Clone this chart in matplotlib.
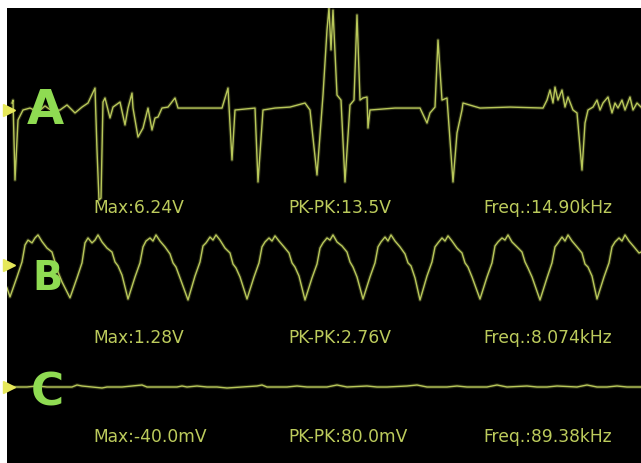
import matplotlib
matplotlib.use("Agg")
import matplotlib.pyplot as plt

# channel A: time (us) and volts
a_t = [10, 12, 16, 22, 32, 46, 62, 76, 90, 106, 120, 136, 150, 162, 176, 180, 184, 188, 192, 196,
       206, 212, 226, 236, 242, 250, 252, 262, 272, 282, 290, 296, 302, 310, 322, 336, 342, 386, 430, 442,
       450, 456, 476, 496, 502, 512, 536, 566, 596, 606, 620, 632, 640, 644, 648, 652, 660, 668, 676, 686,
       694, 700, 706, 712, 720, 722, 726, 776, 826, 840, 846, 856, 862, 870, 880, 892, 900, 910, 912, 946,
       1006, 1072, 1080, 1086, 1092, 1096, 1102, 1110, 1116, 1122, 1132, 1140, 1150, 1156, 1162, 1172, 1180,
       1186, 1192, 1202, 1210, 1216, 1222, 1230, 1236, 1246, 1252, 1260, 1268]
a_v = [0.50, 0.71, -5.00, -0.71, 0.00, 0.14, -0.14, 0.29, -0.07, 0.00, 0.36, -0.21, 0.21, 0.50, 1.57, -2.86, -6.43, -6.29, 0.57, 0.86,
       -0.57, 0.21, 0.57, -1.07, 0.14, 1.21, 0.14, -1.93, -1.29, 0.14, -1.43, -0.57, -0.50, 0.14, 0.21, 0.86, 0.14, 0.14, 0.14, 1.57,
       -3.57, 0.00, 0.07, 0.14, -5.14, 0.00, 0.14, 0.21, 0.50, 0.00, -4.64, 1.07, 5.71, 7.29, 4.29, 7.14, 1.07, 0.71, -5.14, 0.36,
       0.71, 6.79, 0.71, 0.86, 0.93, -1.29, 0.00, 0.14, 0.14, -0.93, -0.21, 0.21, 5.00, 0.71, 0.86, -5.14, -1.64, 0.00, 0.50, 0.14,
       0.21, 0.14, 0.71, 1.43, 0.50, 1.64, 0.71, 1.43, 0.21, 0.93, 0.00, -0.21, -4.29, -0.93, 0.00, 0.21, 0.71,
       0.00, 0.50, 0.93, -0.21, 0.50, 0.14, 0.71, 0.00, 0.93, 0.00, 0.50, 0.21]

# channel B: time (us) and volts
b_t = [0,
       6, 20, 30, 36, 42, 50, 56, 62, 70, 80, 90, 96, 102, 110,
       126, 140, 150, 156, 162, 170, 176, 182, 190, 200, 210, 216, 222, 230,
       242, 256, 266, 272, 278, 286, 292, 298, 306, 316, 326, 332, 338, 346,
       362, 376, 386, 392, 398, 406, 412, 418, 426, 436, 446, 452, 458, 466,
       480, 494, 504, 510, 516, 524, 530, 536, 544, 554, 564, 570, 576, 584,
       596, 610, 620, 626, 632, 640, 646, 652, 660, 670, 680, 686, 692, 700,
       712, 726, 736, 742, 748, 756, 762, 768, 776, 786, 796, 802, 808, 816,
       826, 840, 850, 856, 862, 870, 876, 882, 890, 900, 910, 916, 922, 930,
       946, 960, 970, 976, 982, 990, 996, 1002, 1010, 1020, 1030, 1036, 1042, 1050,
       1066, 1080, 1090, 1096, 1102, 1110, 1116, 1122, 1130, 1140, 1150, 1156, 1162, 1170,
       1180, 1194, 1204, 1210, 1216, 1224, 1230, 1236, 1244, 1254, 1264, 1268]
b_v = [-0.98,
       -1.36, -0.51, 0.13, 0.85, 1.06, 0.94, 1.15, 1.28, 1.00, 0.72, 0.55, 0.13, -0.30, -0.72,
       -1.40, -0.55, 0.09, 0.94, 1.15, 0.94, 1.06, 1.28, 0.98, 0.72, 0.55, 0.13, -0.04, -0.43,
       -1.45, -0.51, 0.09, 0.77, 1.02, 1.15, 1.02, 1.28, 1.02, 0.77, 0.47, 0.09, -0.09, -0.55,
       -1.49, -0.47, 0.13, 0.81, 0.94, 1.19, 1.06, 1.28, 1.06, 0.72, 0.51, 0.04, -0.13, -0.51,
       -1.45, -0.51, 0.09, 0.77, 0.98, 1.15, 1.02, 1.24, 1.02, 0.77, 0.51, 0.09, -0.09, -0.47,
       -1.49, -0.55, 0.04, 0.72, 0.94, 1.15, 1.06, 1.28, 0.98, 0.81, 0.55, 0.13, -0.09, -0.51,
       -1.45, -0.51, 0.09, 0.77, 0.98, 1.19, 1.02, 1.28, 1.02, 0.77, 0.47, 0.09, -0.04, -0.55,
       -1.49, -0.47, 0.13, 0.77, 0.94, 1.15, 1.02, 1.24, 1.02, 0.72, 0.51, 0.09, -0.09, -0.51,
       -1.45, -0.51, 0.09, 0.81, 0.98, 1.15, 1.06, 1.28, 0.98, 0.77, 0.55, 0.13, -0.13, -0.51,
       -1.49, -0.55, 0.09, 0.77, 0.94, 1.19, 1.02, 1.28, 1.02, 0.77, 0.51, 0.04, -0.09, -0.47,
       -1.45, -0.51, 0.09, 0.77, 0.98, 1.15, 1.02, 1.28, 1.02, 0.77, 0.51, 0.55]

# channel C: time (us) and millivolts
c_t = [0, 40, 60, 80, 130, 140, 150, 170, 190, 200, 230, 250, 270, 280, 300, 340, 350, 360, 380, 400,
       420, 440, 470, 500, 510, 520, 560, 580, 600, 640, 660, 680, 720, 740, 760, 800, 820, 840, 880, 900,
       920, 960, 980, 1000, 1040, 1060, 1080, 1100, 1140, 1160, 1180, 1200, 1220, 1240, 1268]
c_v = [-80, -80, -60, -80, -80, -40, -60, -80, -100, -80, -80, -60, -40, -80, -80, -80, -60, -80, -60, -80,
       -80, -100, -80, -60, -40, -80, -80, -60, -80, -80, -40, -80, -60, -80, -80, -60, -40, -80, -80, -60,
       -80, -80, -40, -80, -60, -80, -80, -60, -80, -40, -80, -80, -60, -80, -80]

channels = ["A", "B", "C"]
max_labels = ["Max:6.24V", "Max:1.28V", "Max:-40.0mV"]
pkpk_labels = ["PK-PK:13.5V", "PK-PK:2.76V", "PK-PK:80.0mV"]
freq_labels = ["Freq.:14.90kHz", "Freq.:8.074kHz", "Freq.:89.38kHz"]
ground_levels = [0.0, 0.0, -80]

W, H = 641, 463
fig = plt.figure(figsize=(W / 100, H / 100), dpi=100, facecolor="white")

# same screen rect for all three channels, each with its own volts scale
rect = [7 / W, 0, 634 / W, 455 / H]
ylims = [(-25.21, 7.286), (-8.43, 10.94), (-1600, 7500)]
series = [(a_t, a_v), (b_t, b_v), (c_t, c_v)]

trace_col = "#b9c85a"
axs = []
for i in range(3):
    ax = fig.add_axes(rect)
    if i == 0:
        ax.set_facecolor("black")
    else:
        ax.patch.set_alpha(0)
    ax.set_xlim(0, 1268)
    ax.set_ylim(*ylims[i])
    ax.set_xticks([])
    ax.set_yticks([])
    for sp in ax.spines.values():
        sp.set_visible(False)
    t, v = series[i]
    ax.plot(t, v, color=trace_col, lw=2.6, alpha=0.22, solid_joinstyle="round")
    ax.plot(t, v, color=trace_col, lw=1.0, solid_joinstyle="round")
    ax.plot([3], [ground_levels[i]], marker=">", markersize=9, color="#e6e85a",
            clip_on=False, zorder=5)
    axs.append(ax)

# stats rows
row_y = [208, 338, 437]
for i in range(3):
    fy = 1 - row_y[i] / H
    for x, s in zip([93, 288, 483], [max_labels[i], pkpk_labels[i], freq_labels[i]]):
        fig.text(x / W, fy, s, color="#bccb5c", fontsize=12.3, family="DejaVu Sans",
                 ha="left", va="center")

# channel letters
letter_pos = [(45, 106, 35), (47, 275, 29), (47, 389, 33)]
for ch, (x, y, cap) in zip(channels, letter_pos):
    fig.text(x / W, 1 - y / H, ch, color="#8fdb52", fontsize=cap / 0.73 * 0.72,
             fontweight="bold", family="DejaVu Sans", ha="center", va="center_baseline")

fig.savefig("out.png", dpi=100, facecolor="white")
